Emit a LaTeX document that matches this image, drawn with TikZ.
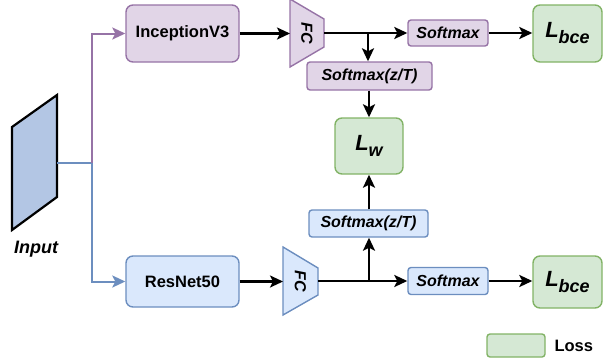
\documentclass[tikz,border=0pt]{standalone}
\usepackage{fontspec}
\setmainfont{Liberation Sans}
\usetikzlibrary{arrows.meta}

\definecolor{purfill}{HTML}{E1D5E7}
\definecolor{purline}{HTML}{9673A6}
\definecolor{bluefill}{HTML}{DAE8FC}
\definecolor{blueline}{HTML}{6C8EBF}
\definecolor{grnfill}{HTML}{D5E8D4}
\definecolor{grnline}{HTML}{82B366}
\definecolor{inputfill}{HTML}{B3C6E4}

\newcommand{\fsz}[1]{\fontsize{#1}{#1}\selectfont}
\newcommand{\losslabel}[1]{{\fsz{22}\bfseries\itshape L\raisebox{-6pt}{\fsz{18}#1}}}

\tikzset{
  netbox/.style={rounded corners=7pt, line width=1.4pt, inner sep=0pt,
    font=\fsz{16.5}\bfseries},
  smbox/.style={rounded corners=3pt, line width=1.4pt, inner sep=0pt,
    font=\fsz{16}\bfseries\itshape},
  lossbox/.style={rounded corners=7pt, line width=1.4pt, inner sep=0pt,
    draw=grnline, fill=grnfill},
  pur/.style={draw=purline, fill=purfill},
  blu/.style={draw=blueline, fill=bluefill},
  fcshape/.style={line width=1.4pt},
  fclabel/.style={rotate=-90, font=\fsz{16}\bfseries\itshape},
  flow/.style={line width=2.4pt, -{Stealth[length=13pt,width=12pt,inset=3pt]}},
  branchpur/.style={line width=2pt, draw=purline},
  branchblu/.style={line width=2pt, draw=blueline},
  tipcol/.style={-{Stealth[length=13pt,width=12pt,inset=3pt]}},
}

\begin{document}
\begin{tikzpicture}[x=1pt,y=-1pt]
\useasboundingbox (0,0) rectangle (605,362);

% input image
\draw[line width=2.2pt, fill=inputfill, line join=miter]
  (12,127) -- (57,95) -- (57,197) -- (12,230) -- cycle;
\coordinate (inp) at (57,163);
\node[font=\fsz{18}\bfseries\itshape] (inplabel) at (36,249) {Input};

% backbones
\node[netbox, pur, minimum width=113pt, minimum height=57pt] (inc) at (182.5,33.5) {InceptionV3};
\node[netbox, blu, minimum width=113pt, minimum height=51pt] (res) at (182.5,281.5) {ResNet50};

% split of the input towards both backbones
\coordinate (split) at (92,163);
\draw[branchblu] (inp) -- (split);
\draw[branchpur, tipcol] (split) |- (inc.west);
\draw[branchblu, tipcol] (split) |- (res.west);

% fully connected heads
\draw[fcshape, draw=purline, fill=purfill] (290,-1) -- (324,19) -- (324,47) -- (290,67) -- cycle;
\node[fclabel] (fcA) at (307,33) {FC};
\coordinate (fcAin) at (290,33.5);
\coordinate (fcAout) at (324,33);

\draw[fcshape, draw=blueline, fill=bluefill] (283,247) -- (318,268) -- (318,295) -- (283,315) -- cycle;
\node[fclabel] (fcB) at (300.5,281) {FC};
\coordinate (fcBin) at (283,281.5);
\coordinate (fcBout) at (318,281);

% softmax blocks
\node[smbox, pur, minimum width=80pt, minimum height=26pt] (smA) at (448,33) {Softmax};
\node[smbox, pur, minimum width=125pt, minimum height=28pt] (smzA) at (369.5,76) {Softmax(z/T)};
\node[smbox, blu, minimum width=80pt, minimum height=27pt] (smB) at (448,281) {Softmax};
\node[smbox, blu, minimum width=119pt, minimum height=27pt] (smzB) at (368.5,223.5) {Softmax(z/T)};

% losses
\node[lossbox, minimum width=69pt, minimum height=57pt] (lbceA) at (567.5,33.5) {\losslabel{bce}};
\node[lossbox, minimum width=69pt, minimum height=52pt] (lbceB) at (567.5,282) {\losslabel{bce}};
\node[lossbox, minimum width=68pt, minimum height=56pt] (lw) at (369,146) {\losslabel{w}};

% top branch
\draw[flow] (inc.east |- fcAin) -- (fcAin);
\coordinate (brA) at (368,33);
\draw[flow] (fcAout) -- (smA.west |- fcAout);
\draw[flow] (brA) -- (brA |- smzA.north);
\draw[flow] (smzA.south -| lw.north) -- (lw.north);
\draw[flow] (smA.east) -- (lbceA.west |- smA.east);

% bottom branch
\draw[flow] (res.east |- fcBin) -- (fcBin);
\coordinate (brB) at (369,281);
\draw[flow] (fcBout) -- (smB.west |- fcBout);
\draw[flow] (brB) -- (brB |- smzB.south);
\draw[flow] (smzB.north -| lw.south) -- (lw.south);
\draw[flow] (smB.east) -- (lbceB.west |- smB.east);

% legend
\node[lossbox, rounded corners=3pt, minimum width=58pt, minimum height=23pt] (legbox) at (516,345.5) {};
\node[font=\fsz{16.5}\bfseries, anchor=west] (legtext) at (551,346) {Loss};
\end{tikzpicture}
\end{document}
